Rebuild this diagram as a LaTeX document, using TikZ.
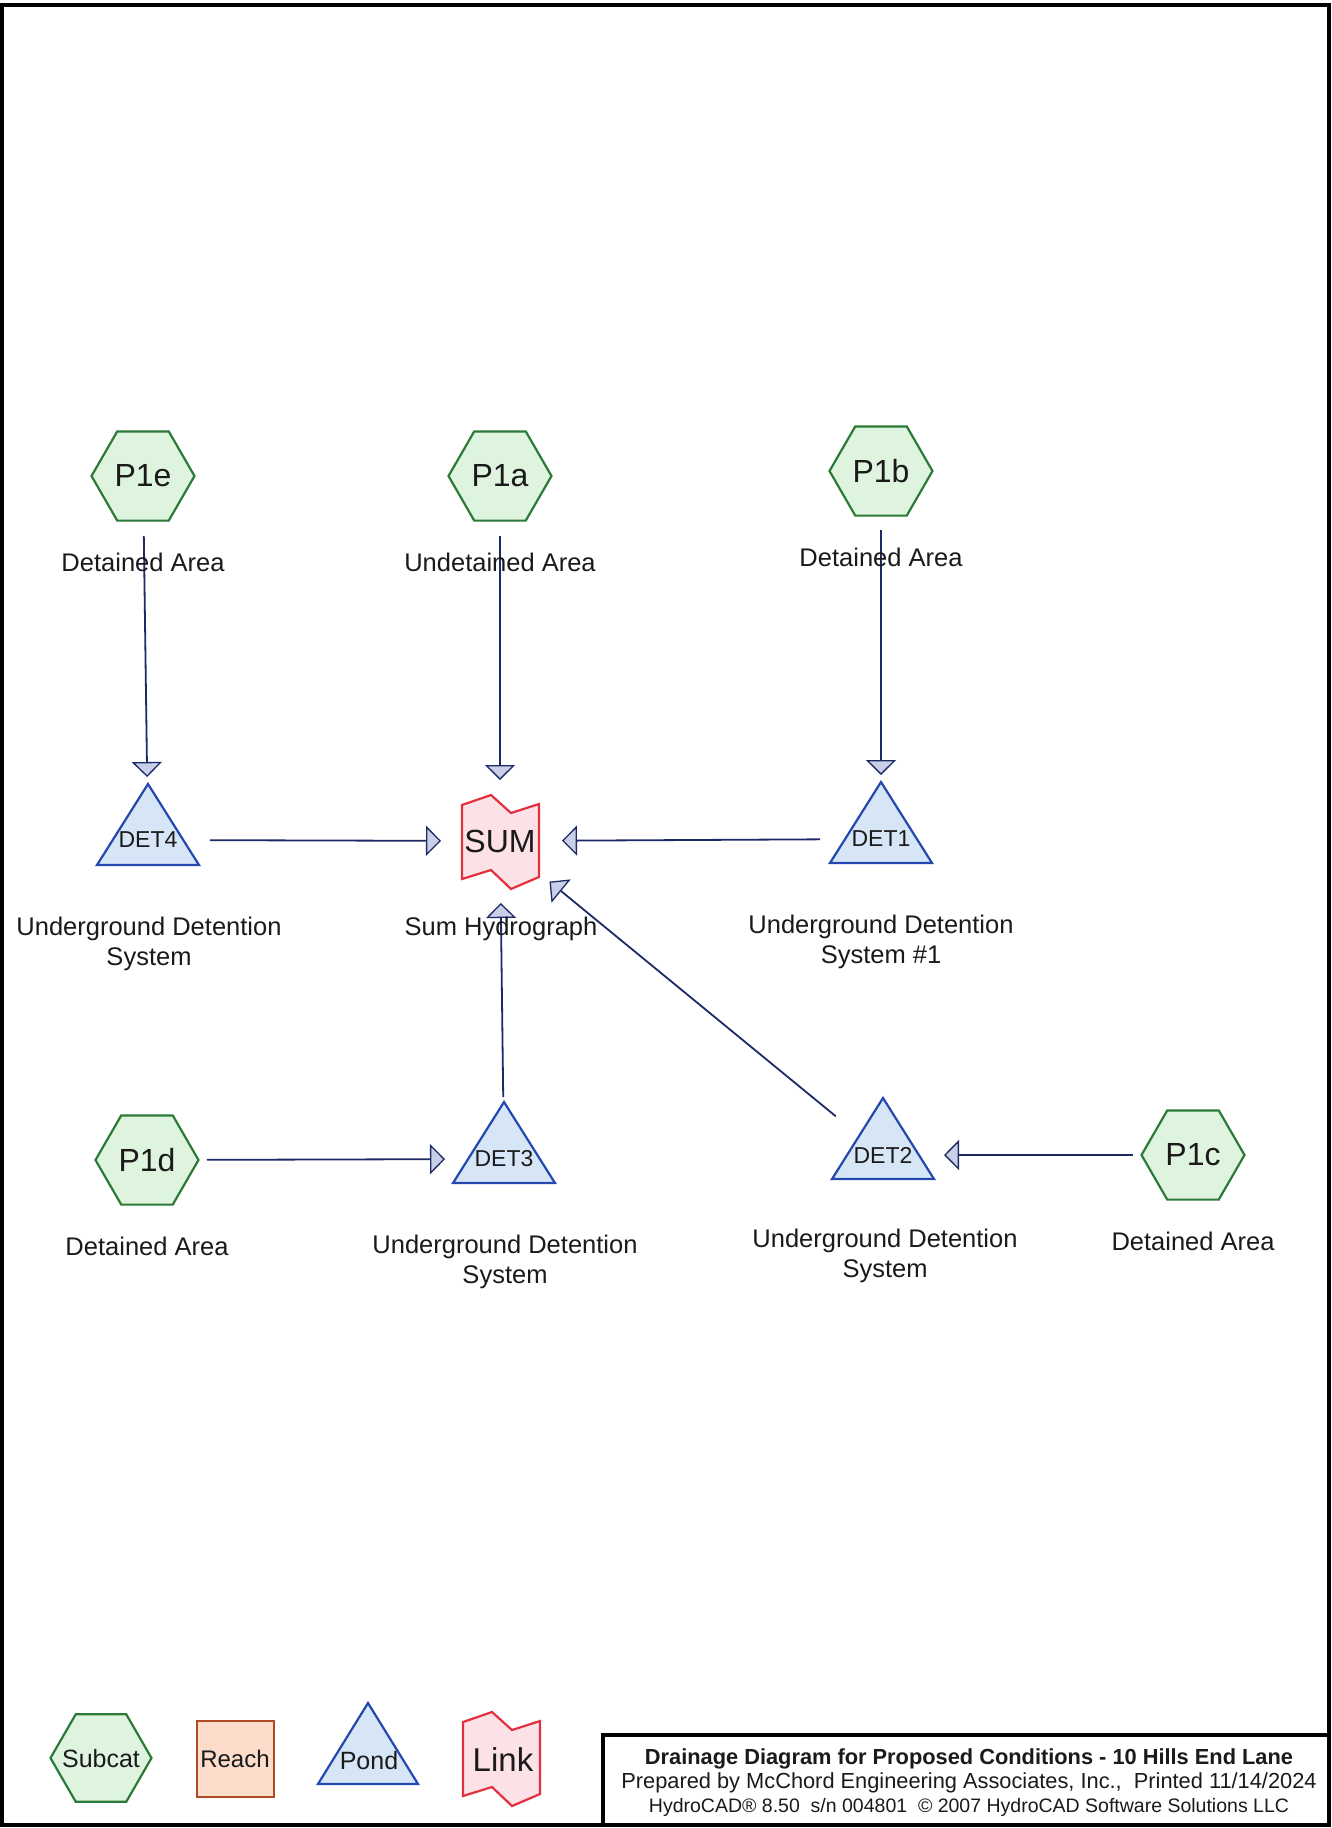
\documentclass[tikz,border=0pt]{standalone}
\usepackage{fontspec}
\setmainfont{Liberation Sans}
\usetikzlibrary{shapes.geometric,arrows.meta}
\definecolor{hexfill}{HTML}{DFF4DF}
\definecolor{hexdraw}{HTML}{2B7A37}
\definecolor{pondfill}{HTML}{D6E6F7}
\definecolor{ponddraw}{HTML}{2448B0}
\definecolor{linkfill}{HTML}{FCE1E7}
\definecolor{linkdraw}{HTML}{E3303F}
\definecolor{reachfill}{HTML}{FCDCCB}
\definecolor{reachdraw}{HTML}{B04A25}
\definecolor{flowc}{HTML}{1E2A66}
\definecolor{tipfill}{HTML}{C9CFE6}
\definecolor{txt}{HTML}{1A1A1A}
\newcommand\pondshape[2]{\filldraw[pondsh] (#1,#2) -- (#1+51,#2+81) -- (#1-51,#2+81) -- cycle;}
\newcommand\linkshape[2]{\filldraw[linksh] (#1,#2) -- (#1+29,#2-10) -- (#1+49,#2+8) -- (#1+77,#2-1) -- (#1+77,#2+72) -- (#1+49,#2+84) -- (#1+29,#2+65) -- (#1,#2+74) -- cycle;}
\begin{document}
\begin{tikzpicture}[x=1pt,y=-1pt,
  hexnode/.style={regular polygon, regular polygon sides=6, minimum size=103pt, inner sep=0pt,
    draw=hexdraw, fill=hexfill, line width=2.2pt, text=txt, font=\fontsize{32}{36}\selectfont},
  pondsh/.style={draw=ponddraw, fill=pondfill, line width=2.2pt, line join=miter},
  linksh/.style={draw=linkdraw, fill=linkfill, line width=2.2pt, line join=miter},
  pondtext/.style={inner sep=0pt, text=txt, font=\fontsize{23}{26}\selectfont},
  linktext/.style={inner sep=0pt, text=txt, font=\fontsize{32}{36}\selectfont},
  desc/.style={anchor=base, inner sep=0pt, text=txt, font=\fontsize{25.5}{30}\selectfont},
  flow/.style={draw=flowc, line width=1.8pt,
    -{Triangle[length=15pt,width=30pt,fill=tipfill,line width=1.3pt]}},
  legtext/.style={inner sep=0pt, text=txt, font=\fontsize{25}{30}\selectfont},
]
\useasboundingbox (0,0) rectangle (1331,1828);
\fill[white] (0,0) rectangle (1331,1828);

% ---- shapes ----
\pondshape{148}{784}
\pondshape{881}{782}
\pondshape{504}{1102}
\pondshape{883}{1098}
\linkshape{462}{805}

\node[hexnode] (P1e) at (143,476) {P1e};
\node[hexnode] (P1a) at (500,476) {P1a};
\node[hexnode] (P1b) at (881,471) {P1b};
\node[hexnode] (P1d) at (147,1160) {P1d};
\node[hexnode] (P1c) at (1193,1155) {P1c};

\node[pondtext] (DET4) at (148,840) {DET4};
\node[pondtext] (DET1) at (881,839) {DET1};
\node[pondtext] (DET3) at (504,1159) {DET3};
\node[pondtext] (DET2) at (883,1155) {DET2};
\node[linktext] (SUM) at (500,841) {SUM};

% ---- connectors ----
\draw[flow, shorten <=60pt, shorten >=63pt] (P1e.center) -- (DET4.center);
\draw[flow, shorten <=60pt, shorten >=61pt] (P1a.center) -- (SUM.center);
\draw[flow, shorten <=59pt, shorten >=64pt] (P1b.center) -- (DET1.center);
\draw[flow, shorten <=62pt, shorten >=59pt] (DET4.center) -- (SUM.center);
\draw[flow, shorten <=61pt, shorten >=62pt] (DET1.center) -- (SUM.center);
\draw[flow, shorten <=62pt, shorten >=62pt] (DET3.center) -- (SUM.center);
\draw[flow, shorten <=61pt, shorten >=64pt] (DET2.center) -- (SUM.center);
\draw[flow, shorten <=60pt, shorten >=59pt] (P1d.center) -- (DET3.center);
\draw[flow, shorten <=60pt, shorten >=61pt] (P1c.center) -- (DET2.center);

% ---- descriptions ----
\node[desc] (P1eL) at (143,571) {Detained Area};
\node[desc] (P1aL) at (500,571) {Undetained Area};
\node[desc] (P1bL) at (881,566) {Detained Area};
\node[desc] (P1dL) at (147,1255) {Detained Area};
\node[desc] (P1cL) at (1193,1250) {Detained Area};
\node[desc] (DET4La) at (149,935) {Underground Detention};
\node[desc] (DET4Lb) at (149,965) {System};
\node[desc] (DET1La) at (881,933) {Underground Detention};
\node[desc] (DET1Lb) at (881,963) {System \#1};
\node[desc] (SUML) at (501,935) {Sum Hydrograph};
\node[desc] (DET3La) at (505,1253) {Underground Detention};
\node[desc] (DET3Lb) at (505,1283) {System};
\node[desc] (DET2La) at (885,1247) {Underground Detention};
\node[desc] (DET2Lb) at (885,1277) {System};

% ---- legend ----
\node[hexnode, minimum size=101pt] (LSubHex) at (101,1758) {};
\node[legtext] (LSub) at (101,1759) {Subcat};
\node[draw=reachdraw, fill=reachfill, line width=2pt, minimum width=77pt, minimum height=76pt,
  inner sep=0pt, text=txt, font=\fontsize{24}{30}\selectfont] (LReach) at (235,1759) {Reach};
\filldraw[pondsh] (368,1703) -- (418,1784) -- (318,1784) -- cycle;
\node[legtext] (LPond) at (369,1761) {Pond};
\linkshape{463}{1722}
\node[linktext, font=\fontsize{33}{36}\selectfont] (LLink) at (503,1760) {Link};

% ---- frame and title block ----
\draw[line width=4pt] (2,5) rectangle (1329,1825);
\draw[line width=3.5pt] (603,1825) -- (603,1735) -- (1329,1735);
\node[anchor=base, inner sep=0pt, text=txt, font=\fontsize{21.8}{24}\selectfont\bfseries] (T1) at (969,1764)
  {Drainage Diagram for Proposed Conditions - 10 Hills End Lane};
\node[anchor=base, inner sep=0pt, text=txt, font=\fontsize{21.8}{24}\selectfont] (T2) at (969,1788)
  {Prepared by McChord Engineering Associates, Inc.,\ \ Printed 11/14/2024};
\node[anchor=base, inner sep=0pt, text=txt, font=\fontsize{19.5}{22}\selectfont] (T3) at (969,1812)
  {HydroCAD® 8.50\ \ s/n 004801\ \ © 2007 HydroCAD Software Solutions LLC};
\end{tikzpicture}
\end{document}
